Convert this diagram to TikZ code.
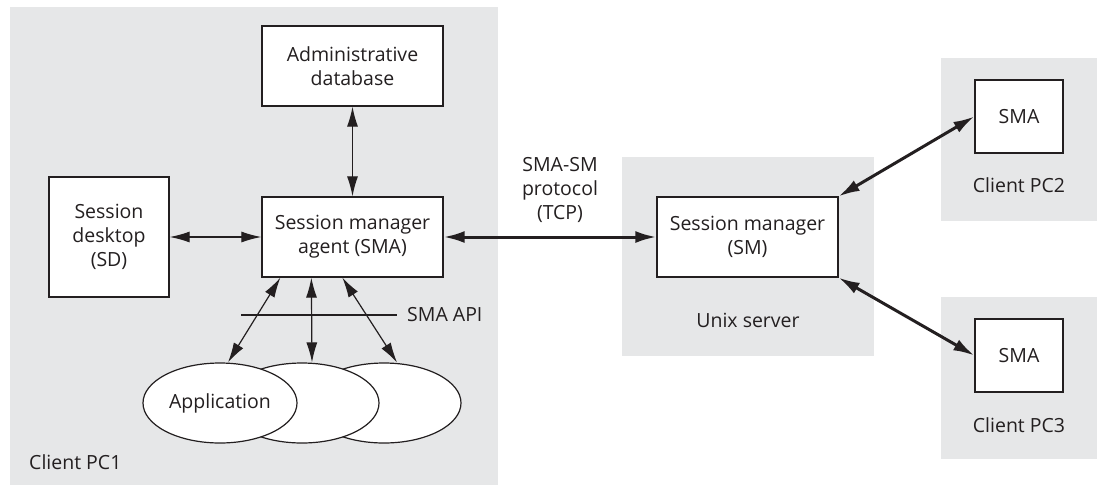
\documentclass[tikz,border=0pt]{standalone}
\usepackage{fontspec}
\setmainfont{Open Sans}
\usetikzlibrary{arrows.meta,calc,shapes.geometric}
\definecolor{panel}{HTML}{E6E7E8}
\definecolor{ink}{HTML}{231F20}
\begin{document}
\begin{tikzpicture}[x=1pt,y=-1pt,
  font=\fontsize{19.5}{24}\selectfont,
  panelbox/.style={fill=panel,draw=none,inner sep=0pt,anchor=north west},
  block/.style={draw=ink,line width=1.3pt,fill=white,align=center,inner sep=2pt,text=ink},
  appshape/.style={ellipse,draw=ink,line width=1.2pt,fill=white,minimum width=154pt,minimum height=80pt,inner sep=0pt,text=ink},
  link/.style={draw=ink,line width=1.2pt,{Latex[length=20pt,width=11pt]}-{Latex[length=20pt,width=11pt]}},
  netlink/.style={draw=ink,line width=3pt,{Latex[length=21pt,width=12pt]}-{Latex[length=21pt,width=12pt]}},
  lbl/.style={text=ink,align=center,inner sep=0pt}]
\useasboundingbox (0,0) rectangle (1102,485);

% grey host areas
\node[panelbox,minimum width=488pt,minimum height=478pt] (pc1) at (10,7) {};
\node[panelbox,minimum width=252pt,minimum height=199pt] (unix) at (622,157) {};
\node[panelbox,minimum width=156pt,minimum height=163pt] (pc2) at (941,58) {};
\node[panelbox,minimum width=156pt,minimum height=162pt] (pc3) at (941,297) {};

% components
\node[block,minimum width=181pt,minimum height=80pt] (admin) at (352.5,66) {Administrative\\database};
\node[block,minimum width=120pt,minimum height=120pt] (sd) at (109,237) {Session\\desktop\\(SD)};
\node[block,minimum width=181pt,minimum height=80pt] (sma) at (352.5,237) {Session manager\\agent (SMA)};
\node[block,minimum width=181pt,minimum height=80pt] (sm) at (747.5,237) {Session manager\\(SM)};
\node[block,minimum width=88pt,minimum height=73pt] (sma2) at (1019,116.5) {SMA};
\node[block,minimum width=88pt,minimum height=73pt] (sma3) at (1019,355.5) {SMA};

% stacked applications
\node[appshape] (app3) at (384,403) {};
\node[appshape] (app2) at (302,403) {};
\node[appshape] (app1) at (220,403) {Application};

% labels
\node[lbl,anchor=west] (pc1lbl) at (29,462) {Client PC1};
\node[lbl] (unixlbl) at (748,320) {Unix server};
\node[lbl] (pc2lbl) at (1019,185) {Client PC2};
\node[lbl] (pc3lbl) at (1019,425) {Client PC3};
\node[lbl] (proto) at (560,190) {SMA-SM\\protocol\\(TCP)};

% API boundary
\coordinate (apiL) at (241,315);
\coordinate (apiR) at (397,315);
\draw[ink,line width=1.2pt] (apiL) -- (apiR);
\node[lbl,anchor=west] (api) at (407,315) {SMA API};

% local connections
\draw[link] (admin.south) -- (sma.north);
\draw[link] (sd.east) -- (sma.west);
\coordinate (s1) at ($(sma.south west)+(19,0)$);
\coordinate (s2) at ($(sma.south west)+(50,0)$);
\coordinate (s3) at ($(sma.south west)+(81,0)$);
\coordinate (e1) at ($(app1.north)+(8,0)$);
\coordinate (e2) at ($(app2.north)+(10,0)$);
\coordinate (e3) at ($(app3.north)+(13,0)$);
\draw[link] (s1) -- (e1);
\draw[link] (s2) -- (e2);
\draw[link] (s3) -- (e3);

% network connections
\draw[netlink] (sma.east) -- (sm.west);
\draw[netlink] (sm.north east) -- (sma2.west);
\draw[netlink] (sm.south east) -- (sma3.west);
\end{tikzpicture}
\end{document}
